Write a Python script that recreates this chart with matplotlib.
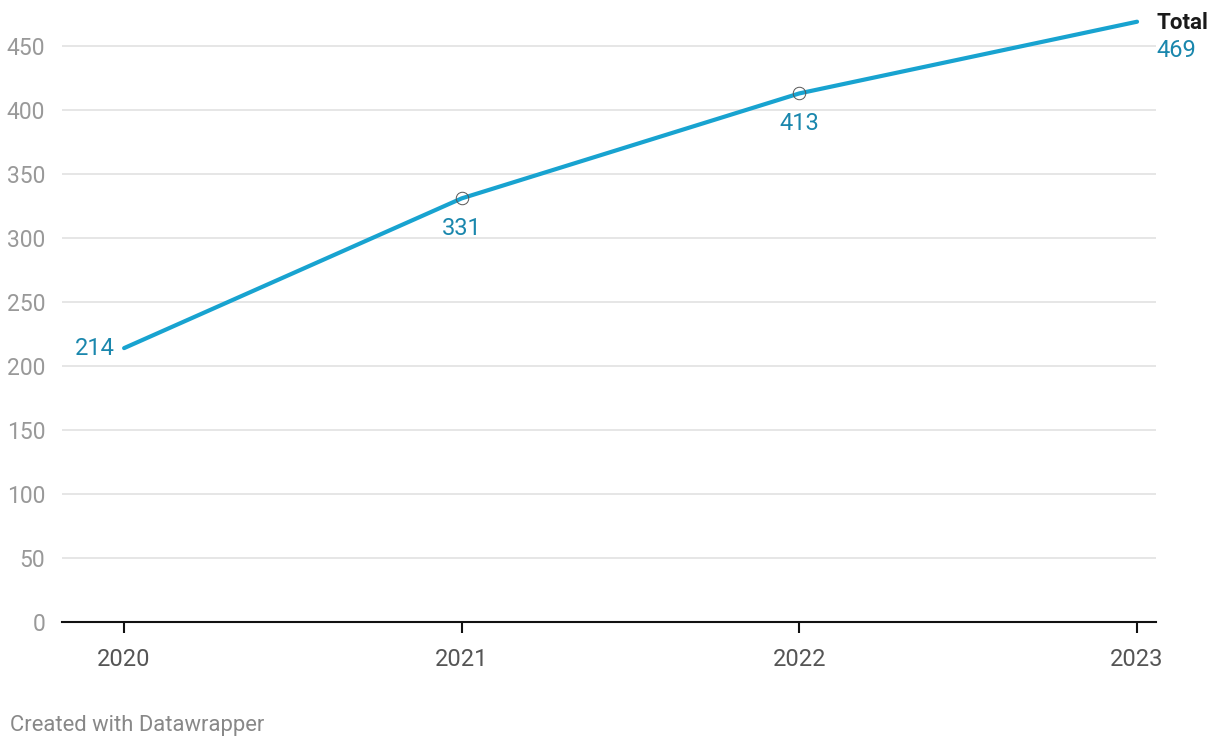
import matplotlib.pyplot as plt

plt.rcParams['font.family'] = ['Roboto', 'DejaVu Sans']

# Data
years = [2020, 2021, 2022, 2023]
totals = [214, 331, 413, 469]
y_ticks = [0, 50, 100, 150, 200, 250, 300, 350, 400, 450]

line_color = '#18a3d0'
label_color = '#1a87ad'

fig = plt.figure(figsize=(12.2, 7.48), dpi=100)
ax = fig.add_axes([0.0508, 0.1684, 0.8967, 0.8214])

for t in y_ticks[1:]:
    ax.axhline(t, color='#e2e2e2', linewidth=1.2, zorder=0)

ax.plot(years, totals, color=line_color, linewidth=3, solid_capstyle='round',
        clip_on=False, zorder=3)
ax.plot(years[1:3], totals[1:3], 'o', markersize=9, markerfacecolor='none',
        markeredgecolor='#555555', markeredgewidth=0.7, zorder=4)

# value labels
ax.annotate(str(totals[0]), (years[0], totals[0]), xytext=(-7, 0),
            textcoords='offset points', ha='right', va='center',
            fontsize=17, color=label_color)
for x, v in zip(years[1:3], totals[1:3]):
    ax.annotate(str(v), (x, v), xytext=(0, -13.5), textcoords='offset points',
                ha='center', va='top', fontsize=17, color=label_color)
ax.annotate('Total', (years[3], totals[3]), xytext=(14, -1),
            textcoords='offset points', ha='left', va='center',
            fontsize=16, fontweight='bold', color='#1a1a1a', annotation_clip=False)
ax.annotate(str(totals[3]), (years[3], totals[3]), xytext=(14, -21),
            textcoords='offset points', ha='left', va='center',
            fontsize=17, color=label_color, annotation_clip=False)

ax.set_xlim(2019.816, 2023.056)
ax.set_ylim(0, 480)
ax.set_xticks(years)
ax.set_xticklabels([str(y) for y in years])
ax.set_yticks(y_ticks)

for s in ['top', 'right', 'left']:
    ax.spines[s].set_visible(False)
ax.spines['bottom'].set_color('#111111')
ax.spines['bottom'].set_linewidth(1.5)

ax.tick_params(axis='x', length=8, width=1.5, color='#111111', pad=11,
               labelsize=17, labelcolor='#555555')
ax.tick_params(axis='y', length=0, pad=12, labelsize=16.5, labelcolor='#999999')

fig.text(0.008, 0.030, 'Created with Datawrapper', fontsize=15.8,
         color='#888888', ha='left', va='center')

fig.savefig('out.png', dpi=100)
